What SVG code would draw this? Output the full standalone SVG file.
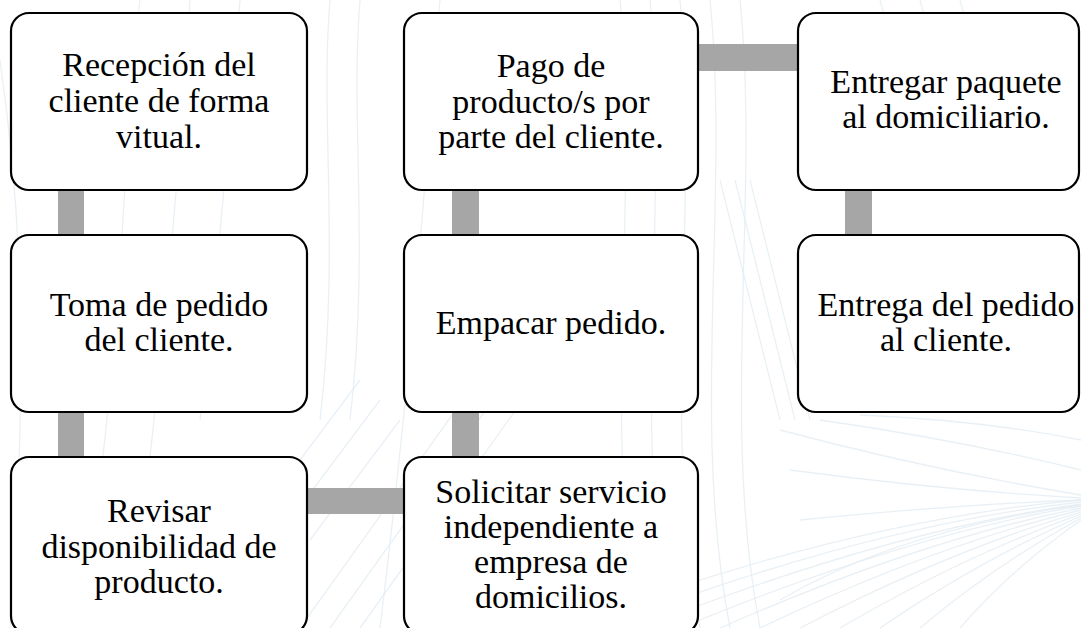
<svg xmlns="http://www.w3.org/2000/svg" width="1081" height="628" viewBox="0 0 1081 628">
<style>
.bg path{fill:none;stroke:#e3ecf3;stroke-width:1.3;opacity:0.8}
.box{fill:#ffffff;stroke:#000000;stroke-width:2.2}
.conn{fill:#a6a6a6;stroke:none}
.t{font-family:"Liberation Serif","Times New Roman",serif;font-size:34px;fill:#000000;text-anchor:middle}
</style>
<rect x="0" y="0" width="1081" height="628" fill="#ffffff"/>
<g class="bg">
<path d="M560 628 Q850 520 1081 500"/>
<path d="M600 628 Q870 525 1081 502"/>
<path d="M640 628 Q890 530 1081 504"/>
<path d="M680 628 Q905 535 1081 506"/>
<path d="M720 628 Q920 540 1081 508"/>
<path d="M760 628 Q935 545 1081 510"/>
<path d="M800 628 Q950 550 1081 512"/>
<path d="M840 628 Q965 555 1081 514"/>
<path d="M880 628 Q980 560 1081 516"/>
<path d="M920 628 Q995 565 1081 518"/>
<path d="M960 628 Q1010 570 1081 520"/>
<path d="M780 430 Q930 470 1081 495"/>
<path d="M790 470 Q940 490 1081 498"/>
<path d="M800 520 Q950 505 1081 500"/>
<path d="M780 600 Q900 530 1081 505"/>
<path d="M820 420 Q960 440 1081 470"/>
<path d="M860 415 Q980 420 1081 440"/>
<path d="M300 628 L470 390"/>
<path d="M330 628 L500 390"/>
<path d="M360 628 L530 390"/>
<path d="M310 540 L400 420"/>
<path d="M290 520 L380 400"/>
<path d="M300 460 L360 380"/>
<path d="M620 0 C640 200 600 420 640 628"/>
<path d="M650 0 C670 200 630 420 670 628"/>
<path d="M680 0 C700 200 660 420 700 628"/>
<path d="M710 0 C730 200 690 420 730 628"/>
<path d="M740 0 C760 200 720 420 760 628"/>
<path d="M720 180 C740 260 760 340 780 420"/>
<path d="M735 180 C755 260 775 340 795 420"/>
<path d="M750 180 C770 260 790 340 810 420"/>
<path d="M140 0 C120 150 130 300 80 628"/>
<path d="M190 0 C180 150 170 300 130 628"/>
<path d="M240 0 C230 120 220 250 200 420"/>
<path d="M330 0 C320 120 340 250 320 420"/>
<path d="M360 0 C350 120 370 250 350 420"/>
<path d="M440 0 C430 100 420 300 380 628"/>
<path d="M0 60 C20 200 30 350 10 628"/>
<path d="M880 0 C900 80 950 140 1000 190"/>
<path d="M920 0 C940 80 990 140 1040 190"/>
<path d="M960 0 C980 80 1030 140 1081 180"/>
</g>
<g id="connectors">
<rect class="conn" x="58" y="189" width="26" height="48"/>
<rect class="conn" x="58" y="411" width="26" height="48"/>
<rect class="conn" x="306" y="488" width="100" height="26"/>
<rect class="conn" x="452" y="411" width="27" height="48"/>
<rect class="conn" x="452" y="189" width="27" height="48"/>
<rect class="conn" x="697" y="44" width="103" height="27"/>
<rect class="conn" x="845" y="189" width="27" height="48"/>
</g>
<g id="n1">
<rect class="box" x="11" y="13" width="296" height="177" rx="18"/>
<text class="t" x="159" y="76">Recepción del</text>
<text class="t" x="159" y="112">cliente de forma</text>
<text class="t" x="159" y="148">vitual.</text>
</g>
<g id="n2">
<rect class="box" x="11" y="235" width="296" height="177" rx="18"/>
<text class="t" x="159" y="316">Toma de pedido</text>
<text class="t" x="159" y="351">del cliente.</text>
</g>
<g id="n3">
<rect class="box" x="11" y="457" width="296" height="177" rx="18"/>
<text class="t" x="159" y="522">Revisar</text>
<text class="t" x="159" y="558">disponibilidad de</text>
<text class="t" x="159" y="593">producto.</text>
</g>
<g id="n4">
<rect class="box" x="404" y="457" width="294" height="177" rx="18"/>
<text class="t" x="551" y="503">Solicitar servicio</text>
<text class="t" x="551" y="538">independiente a</text>
<text class="t" x="551" y="573">empresa de</text>
<text class="t" x="551" y="608">domicilios.</text>
</g>
<g id="n5">
<rect class="box" x="404" y="235" width="294" height="177" rx="18"/>
<text class="t" x="551" y="334">Empacar pedido.</text>
</g>
<g id="n6">
<rect class="box" x="404" y="13" width="294" height="177" rx="18"/>
<text class="t" x="551" y="77">Pago de</text>
<text class="t" x="551" y="113">producto/s por</text>
<text class="t" x="551" y="148">parte del cliente.</text>
</g>
<g id="n7">
<rect class="box" x="798" y="13" width="281" height="177" rx="18"/>
<text class="t" x="946" y="93">Entregar paquete</text>
<text class="t" x="946" y="128">al domiciliario.</text>
</g>
<g id="n8">
<rect class="box" x="798" y="235" width="281" height="177" rx="18"/>
<text class="t" x="946" y="316">Entrega del pedido</text>
<text class="t" x="946" y="351">al cliente.</text>
</g>
</svg>
